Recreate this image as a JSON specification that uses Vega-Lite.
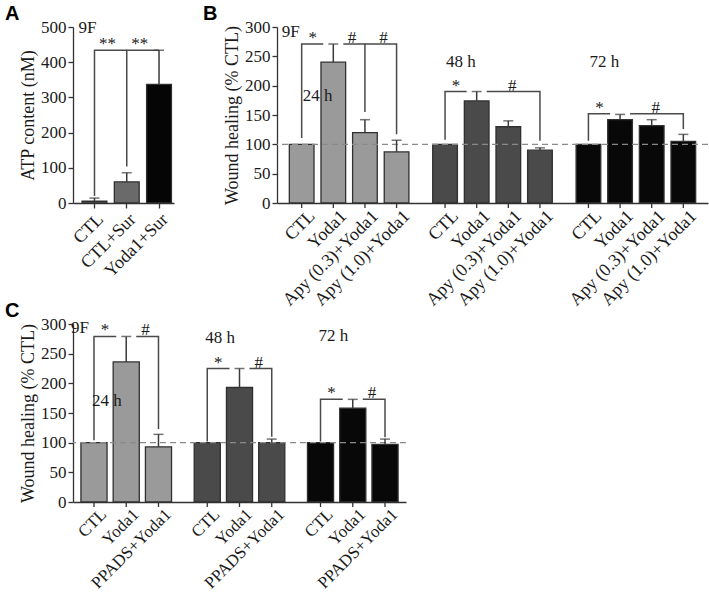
{
 "$schema": "https://vega.github.io/schema/vega-lite/v6.json",
 "padding": {"left": 5, "top": 4, "right": 0, "bottom": 0},
 "background": "white",
 "resolve": {"scale": {"color": "independent", "xOffset": "independent", "x": "independent", "y": "independent"}},
 "config": {
  "font": "Liberation Serif",
  "view": {"stroke": null},
  "axis": {"labelFont": "Liberation Serif", "labelFontSize": 17, "labelColor": "#1a1a1a", "titleFont": "Liberation Serif", "titleFontSize": 18, "titleFontWeight": "normal", "titleColor": "#1a1a1a", "domainColor": "#333333", "tickColor": "#333333", "domainWidth": 1.3, "tickWidth": 1.3, "tickSize": 5, "labelPadding": 2, "grid": false, "titlePadding": 3, "labelOverlap": false},
  "axisY": {"tickCount": 7, "labelOverlap": false},
  "title": {"font": "Liberation Sans", "fontSize": 20, "fontWeight": "bold", "color": "#000000", "anchor": "start", "offset": -6, "frame": "group"},
  "text": {"font": "Liberation Serif", "fontSize": 17, "color": "#1a1a1a"}
 },
 "datasets": {
  "atp": [
   {"cond": "CTL", "value": 5, "err": 14},
   {"cond": "CTL+Sur", "value": 60, "err": 86},
   {"cond": "Yoda1+Sur", "value": 337, "err": 434}
  ],
  "atpBr": [
   {"br": "a1", "cond": "CTL", "y": 20, "ord": 1},
   {"br": "a1", "cond": "CTL", "y": 434, "ord": 2},
   {"br": "a1", "cond": "CTL+Sur", "y": 434, "ord": 3},
   {"br": "a2", "cond": "CTL+Sur", "y": 104, "ord": 1},
   {"br": "a2", "cond": "CTL+Sur", "y": 434, "ord": 2},
   {"br": "a2", "cond": "Yoda1+Sur", "y": 434, "ord": 3}
  ],
  "atpSig": [
   {"cond": "CTL", "y": 434, "sym": "**"},
   {"cond": "CTL+Sur", "y": 434, "sym": "**"}
  ],
  "wB": [
   {"time": "24 h", "cond": "CTL", "value": 100},
   {"time": "24 h", "cond": "Yoda1", "value": 240, "err": 271},
   {"time": "24 h", "cond": "Apy (0.3)+Yoda1", "value": 120, "err": 142},
   {"time": "24 h", "cond": "Apy (1.0)+Yoda1", "value": 87, "err": 107},
   {"time": "48 h", "cond": "CTL", "value": 100},
   {"time": "48 h", "cond": "Yoda1", "value": 174, "err": 190},
   {"time": "48 h", "cond": "Apy (0.3)+Yoda1", "value": 130, "err": 140},
   {"time": "48 h", "cond": "Apy (1.0)+Yoda1", "value": 90, "err": 94},
   {"time": "72 h", "cond": "CTL", "value": 100},
   {"time": "72 h", "cond": "Yoda1", "value": 142, "err": 151},
   {"time": "72 h", "cond": "Apy (0.3)+Yoda1", "value": 132, "err": 142},
   {"time": "72 h", "cond": "Apy (1.0)+Yoda1", "value": 105, "err": 117}
  ],
  "wBBr": [
   {"br": "b1", "time": "24 h", "cond": "CTL", "y": 111, "ord": 1},
   {"br": "b1", "time": "24 h", "cond": "CTL", "y": 271, "ord": 2},
   {"br": "b1", "time": "24 h", "cond": "Yoda1", "y": 271, "ord": 3},
   {"br": "b2", "time": "24 h", "cond": "Yoda1", "y": 271, "ord": 1},
   {"br": "b2", "time": "24 h", "cond": "Apy (0.3)+Yoda1", "y": 271, "ord": 2},
   {"br": "b2", "time": "24 h", "cond": "Apy (0.3)+Yoda1", "y": 155, "ord": 3},
   {"br": "b3", "time": "24 h", "cond": "Apy (0.3)+Yoda1", "y": 271, "ord": 1},
   {"br": "b3", "time": "24 h", "cond": "Apy (1.0)+Yoda1", "y": 271, "ord": 2},
   {"br": "b3", "time": "24 h", "cond": "Apy (1.0)+Yoda1", "y": 117, "ord": 3},
   {"br": "b4", "time": "48 h", "cond": "CTL", "y": 108, "ord": 1},
   {"br": "b4", "time": "48 h", "cond": "CTL", "y": 190, "ord": 2},
   {"br": "b4", "time": "48 h", "cond": "Apy (1.0)+Yoda1", "y": 190, "ord": 3},
   {"br": "b4", "time": "48 h", "cond": "Apy (1.0)+Yoda1", "y": 106, "ord": 4},
   {"br": "b5", "time": "72 h", "cond": "CTL", "y": 106, "ord": 1},
   {"br": "b5", "time": "72 h", "cond": "CTL", "y": 152, "ord": 2},
   {"br": "b5", "time": "72 h", "cond": "Apy (1.0)+Yoda1", "y": 152, "ord": 3},
   {"br": "b5", "time": "72 h", "cond": "Apy (1.0)+Yoda1", "y": 126, "ord": 4}
  ],
  "wBGap": [
   {"time": "24 h", "cond": "Yoda1", "y": 271},
   {"time": "48 h", "cond": "Yoda1", "y": 190},
   {"time": "72 h", "cond": "Yoda1", "y": 152}
  ],
  "wBSigR": [
   {"time": "24 h", "cond": "CTL", "y": 271, "sym": "*"},
   {"time": "48 h", "cond": "CTL", "y": 190, "sym": "*"},
   {"time": "72 h", "cond": "CTL", "y": 152, "sym": "*"}
  ],
  "wBSigL": [
   {"time": "24 h", "cond": "Apy (0.3)+Yoda1", "y": 271, "sym": "#"},
   {"time": "24 h", "cond": "Apy (1.0)+Yoda1", "y": 271, "sym": "#"}
  ],
  "wBSigC": [
   {"time": "48 h", "cond": "Apy (0.3)+Yoda1", "y": 190, "sym": "#"},
   {"time": "72 h", "cond": "Apy (0.3)+Yoda1", "y": 152, "sym": "#"}
  ],
  "wBNote": [
   {"time": "24 h", "cond": "CTL", "y": 182, "t": "24 h"},
   {"time": "48 h", "cond": "CTL", "y": 240, "t": "48 h"},
   {"time": "72 h", "cond": "CTL", "y": 240, "t": "72 h"}
  ],
  "wC": [
   {"time": "24 h", "cond": "CTL", "value": 100},
   {"time": "24 h", "cond": "Yoda1", "value": 236, "err": 279},
   {"time": "24 h", "cond": "PPADS+Yoda1", "value": 93, "err": 114},
   {"time": "48 h", "cond": "CTL", "value": 100},
   {"time": "48 h", "cond": "Yoda1", "value": 193, "err": 225},
   {"time": "48 h", "cond": "PPADS+Yoda1", "value": 100, "err": 106},
   {"time": "72 h", "cond": "CTL", "value": 100},
   {"time": "72 h", "cond": "Yoda1", "value": 158, "err": 173},
   {"time": "72 h", "cond": "PPADS+Yoda1", "value": 97, "err": 106}
  ],
  "wCBr": [
   {"br": "c1", "time": "24 h", "cond": "CTL", "y": 104, "ord": 1},
   {"br": "c1", "time": "24 h", "cond": "CTL", "y": 279, "ord": 2},
   {"br": "c1", "time": "24 h", "cond": "PPADS+Yoda1", "y": 279, "ord": 3},
   {"br": "c1", "time": "24 h", "cond": "PPADS+Yoda1", "y": 123, "ord": 4},
   {"br": "c2", "time": "48 h", "cond": "CTL", "y": 102, "ord": 1},
   {"br": "c2", "time": "48 h", "cond": "CTL", "y": 225, "ord": 2},
   {"br": "c2", "time": "48 h", "cond": "PPADS+Yoda1", "y": 225, "ord": 3},
   {"br": "c2", "time": "48 h", "cond": "PPADS+Yoda1", "y": 110, "ord": 4},
   {"br": "c3", "time": "72 h", "cond": "CTL", "y": 102, "ord": 1},
   {"br": "c3", "time": "72 h", "cond": "CTL", "y": 173, "ord": 2},
   {"br": "c3", "time": "72 h", "cond": "PPADS+Yoda1", "y": 173, "ord": 3},
   {"br": "c3", "time": "72 h", "cond": "PPADS+Yoda1", "y": 109, "ord": 4}
  ],
  "wCGap": [
   {"time": "24 h", "cond": "Yoda1", "y": 279},
   {"time": "48 h", "cond": "Yoda1", "y": 225},
   {"time": "72 h", "cond": "Yoda1", "y": 173}
  ],
  "wCSigR": [
   {"time": "24 h", "cond": "CTL", "y": 279, "sym": "*"},
   {"time": "48 h", "cond": "CTL", "y": 225, "sym": "*"},
   {"time": "72 h", "cond": "CTL", "y": 173, "sym": "*"}
  ],
  "wCSigL": [
   {"time": "24 h", "cond": "PPADS+Yoda1", "y": 279, "sym": "#"},
   {"time": "48 h", "cond": "PPADS+Yoda1", "y": 225, "sym": "#"},
   {"time": "72 h", "cond": "PPADS+Yoda1", "y": 173, "sym": "#"}
  ],
  "wCNote": [
   {"time": "24 h", "cond": "CTL", "y": 170, "t": "24 h"},
   {"time": "48 h", "cond": "CTL", "y": 276, "t": "48 h"},
   {"time": "72 h", "cond": "CTL", "y": 279, "t": "72 h"}
  ]
 },
 "spacing": -9,
 "vconcat": [
  {
   "spacing": 103,
   "bounds": "flush",
   "resolve": {"scale": {"color": "independent", "xOffset": "independent", "x": "independent", "y": "independent"}},
   "hconcat": [
    {
     "title": {"text": "A", "dx": -68},
     "width": 101,
     "height": 176,
     "layer": [
      {"data": {"name": "atp"}, "mark": {"type": "bar", "stroke": "#303030", "strokeWidth": 1.3},
       "encoding": {
        "x": {"field": "cond", "type": "nominal", "title": null, "scale": {"type": "band", "domain": ["CTL", "CTL+Sur", "Yoda1+Sur"], "paddingInner": 0.23, "paddingOuter": 0.18, "align": 0.78}, "axis": {"labelAngle": -45, "labelAlign": "right", "labelBaseline": "top", "labelPadding": 2, "labelFontSize": 18}},
        "y": {"field": "value", "type": "quantitative", "scale": {"domain": [0, 500], "nice": false}, "axis": {"title": "ATP content (nM)", "values": [0, 100, 200, 300, 400, 500], "tickCount": 7, "labelOverlap": false}},
        "color": {"field": "cond", "type": "nominal", "scale": {"domain": ["CTL", "CTL+Sur", "Yoda1+Sur"], "range": ["#707070", "#6a6a6a", "#050505"]}, "legend": null}
       }},
      {"data": {"name": "atpBr"}, "mark": {"type": "line", "color": "#4a4a4a", "strokeWidth": 1.5},
       "encoding": {"x": {"field": "cond", "type": "nominal"}, "y": {"field": "y", "type": "quantitative"}, "detail": {"field": "br"}, "order": {"field": "ord", "type": "quantitative"}}},
      {"data": {"name": "atp"}, "mark": {"type": "rule", "color": "#3a3a3a", "strokeWidth": 1.5},
       "encoding": {"x": {"field": "cond", "type": "nominal"}, "y": {"field": "value", "type": "quantitative"}, "y2": {"field": "err"}}},
      {"data": {"name": "atp"}, "mark": {"type": "tick", "color": "#3a3a3a", "thickness": 1.5, "size": 10},
       "encoding": {"x": {"field": "cond", "type": "nominal"}, "y": {"field": "err", "type": "quantitative"}}},
      {"data": {"name": "atpSig"}, "mark": {"type": "text", "dx": 13, "dy": -1, "baseline": "alphabetic"},
       "encoding": {"x": {"field": "cond", "type": "nominal"}, "y": {"field": "y", "type": "quantitative"}, "text": {"field": "sym"}}},
      {"data": {"values": [{"cond": "CTL", "y": 497, "t": "9F"}]}, "mark": {"type": "text", "align": "left", "dx": -16, "baseline": "middle"},
       "encoding": {"x": {"field": "cond", "type": "nominal"}, "y": {"field": "y", "type": "quantitative"}, "text": {"field": "t"}}}
     ]
    },
    {
     "title": {"text": "B", "dx": -74},
     "width": 431,
     "height": 176,
     "layer": [
      {"data": {"name": "wB"}, "mark": {"type": "bar", "stroke": "#303030", "strokeWidth": 1.3},
       "encoding": {
        "x": {"field": "time", "type": "nominal", "scale": {"type": "band", "domain": ["24 h", "48 h", "72 h"], "paddingInner": 0.166, "paddingOuter": 0.086}, "axis": {"labels": false, "ticks": false, "title": null, "domain": true}},
        "xOffset": {"field": "cond", "type": "nominal", "scale": {"domain": ["CTL", "Yoda1", "Apy (0.3)+Yoda1", "Apy (1.0)+Yoda1"], "paddingInner": 0.22, "paddingOuter": 0}},
        "y": {"field": "value", "type": "quantitative", "scale": {"domain": [0, 300], "nice": false}, "axis": {"title": "Wound healing (% CTL)", "values": [0, 50, 100, 150, 200, 250, 300], "tickCount": 7, "labelOverlap": false}},
        "color": {"field": "time", "type": "nominal", "scale": {"domain": ["24 h", "48 h", "72 h"], "range": ["#9a9a9a", "#4a4a4a", "#080808"]}, "legend": null}
       }},
      {"data": {"values": [{}]}, "mark": {"type": "rule", "color": "#8a8a8a", "strokeDash": [6, 4], "strokeWidth": 1.3},
       "encoding": {"y": {"datum": 100}}},
      {"data": {"name": "wBBr"}, "mark": {"type": "line", "color": "#4a4a4a", "strokeWidth": 1.5},
       "encoding": {"x": {"field": "time", "type": "nominal"}, "xOffset": {"field": "cond", "type": "nominal"}, "y": {"field": "y", "type": "quantitative"}, "detail": {"field": "br"}, "order": {"field": "ord", "type": "quantitative"}}},
      {"data": {"name": "wBGap"}, "mark": {"type": "tick", "color": "white", "thickness": 4, "size": 20, "opacity": 1},
       "encoding": {"x": {"field": "time", "type": "nominal"}, "xOffset": {"field": "cond", "type": "nominal"}, "y": {"field": "y", "type": "quantitative"}}},
      {"data": {"name": "wB"}, "transform": [{"filter": "isValid(datum.err)"}], "mark": {"type": "rule", "color": "#3a3a3a", "strokeWidth": 1.5},
       "encoding": {"x": {"field": "time", "type": "nominal"}, "xOffset": {"field": "cond", "type": "nominal"}, "y": {"field": "value", "type": "quantitative"}, "y2": {"field": "err"}}},
      {"data": {"name": "wB"}, "transform": [{"filter": "isValid(datum.err)"}], "mark": {"type": "tick", "color": "#3a3a3a", "thickness": 1.5, "size": 10},
       "encoding": {"x": {"field": "time", "type": "nominal"}, "xOffset": {"field": "cond", "type": "nominal"}, "y": {"field": "err", "type": "quantitative"}}},
      {"data": {"name": "wBSigR"}, "mark": {"type": "text", "dx": 11, "dy": -1, "baseline": "alphabetic"},
       "encoding": {"x": {"field": "time", "type": "nominal"}, "xOffset": {"field": "cond", "type": "nominal"}, "y": {"field": "y", "type": "quantitative"}, "text": {"field": "sym"}}},
      {"data": {"name": "wBSigL"}, "mark": {"type": "text", "dx": -13, "dy": -1, "baseline": "alphabetic"},
       "encoding": {"x": {"field": "time", "type": "nominal"}, "xOffset": {"field": "cond", "type": "nominal"}, "y": {"field": "y", "type": "quantitative"}, "text": {"field": "sym"}}},
      {"data": {"name": "wBSigC"}, "mark": {"type": "text", "dx": 4, "dy": -1, "baseline": "alphabetic"},
       "encoding": {"x": {"field": "time", "type": "nominal"}, "xOffset": {"field": "cond", "type": "nominal"}, "y": {"field": "y", "type": "quantitative"}, "text": {"field": "sym"}}},
      {"data": {"name": "wBNote"}, "mark": {"type": "text", "align": "left", "dx": 1, "baseline": "middle"},
       "encoding": {"x": {"field": "time", "type": "nominal"}, "xOffset": {"field": "cond", "type": "nominal"}, "y": {"field": "y", "type": "quantitative"}, "text": {"field": "t"}}},
      {"data": {"values": [{"time": "24 h", "cond": "CTL", "y": 292, "t": "9F"}]}, "mark": {"type": "text", "align": "left", "dx": -20, "baseline": "middle"},
       "encoding": {"x": {"field": "time", "type": "nominal"}, "xOffset": {"field": "cond", "type": "nominal"}, "y": {"field": "y", "type": "quantitative"}, "text": {"field": "t"}}},
      {"data": {"name": "wB"}, "mark": {"type": "rule", "color": "#333333", "strokeWidth": 1.3, "y2Offset": 5},
       "encoding": {"x": {"field": "time", "type": "nominal"}, "xOffset": {"field": "cond", "type": "nominal"}, "y": {"datum": 0}, "y2": {"datum": 0}}},
      {"data": {"name": "wB"}, "mark": {"type": "text", "angle": 315, "align": "right", "baseline": "top", "dy": 6, "fontSize": 18},
       "encoding": {"x": {"field": "time", "type": "nominal"}, "xOffset": {"field": "cond", "type": "nominal"}, "y": {"datum": 0}, "text": {"field": "cond"}}}
     ]
    }
   ]
  },
  {
   "title": {"text": "C", "dx": -68},
   "width": 333,
   "height": 178,
   "layer": [
    {"data": {"name": "wC"}, "mark": {"type": "bar", "stroke": "#303030", "strokeWidth": 1.3},
     "encoding": {
      "x": {"field": "time", "type": "nominal", "scale": {"type": "band", "domain": ["24 h", "48 h", "72 h"], "paddingInner": 0.2, "paddingOuter": 0.07}, "axis": {"labels": false, "ticks": false, "title": null, "domain": true}},
      "xOffset": {"field": "cond", "type": "nominal", "scale": {"domain": ["CTL", "Yoda1", "PPADS+Yoda1"], "paddingInner": 0.19, "paddingOuter": 0}},
      "y": {"field": "value", "type": "quantitative", "scale": {"domain": [0, 300], "nice": false}, "axis": {"title": "Wound healing (% CTL)", "values": [0, 50, 100, 150, 200, 250, 300], "tickCount": 7, "labelOverlap": false}},
      "color": {"field": "time", "type": "nominal", "scale": {"domain": ["24 h", "48 h", "72 h"], "range": ["#9a9a9a", "#4a4a4a", "#080808"]}, "legend": null}
     }},
    {"data": {"values": [{}]}, "mark": {"type": "rule", "color": "#8a8a8a", "strokeDash": [6, 4], "strokeWidth": 1.3},
     "encoding": {"y": {"datum": 100}}},
    {"data": {"name": "wCBr"}, "mark": {"type": "line", "color": "#4a4a4a", "strokeWidth": 1.5},
     "encoding": {"x": {"field": "time", "type": "nominal"}, "xOffset": {"field": "cond", "type": "nominal"}, "y": {"field": "y", "type": "quantitative"}, "detail": {"field": "br"}, "order": {"field": "ord", "type": "quantitative"}}},
    {"data": {"name": "wCGap"}, "mark": {"type": "tick", "color": "white", "thickness": 4, "size": 20, "opacity": 1},
     "encoding": {"x": {"field": "time", "type": "nominal"}, "xOffset": {"field": "cond", "type": "nominal"}, "y": {"field": "y", "type": "quantitative"}}},
    {"data": {"name": "wC"}, "transform": [{"filter": "isValid(datum.err)"}], "mark": {"type": "rule", "color": "#3a3a3a", "strokeWidth": 1.5},
     "encoding": {"x": {"field": "time", "type": "nominal"}, "xOffset": {"field": "cond", "type": "nominal"}, "y": {"field": "value", "type": "quantitative"}, "y2": {"field": "err"}}},
    {"data": {"name": "wC"}, "transform": [{"filter": "isValid(datum.err)"}], "mark": {"type": "tick", "color": "#3a3a3a", "thickness": 1.5, "size": 10},
     "encoding": {"x": {"field": "time", "type": "nominal"}, "xOffset": {"field": "cond", "type": "nominal"}, "y": {"field": "err", "type": "quantitative"}}},
    {"data": {"name": "wCSigR"}, "mark": {"type": "text", "dx": 11, "dy": -1, "baseline": "alphabetic"},
     "encoding": {"x": {"field": "time", "type": "nominal"}, "xOffset": {"field": "cond", "type": "nominal"}, "y": {"field": "y", "type": "quantitative"}, "text": {"field": "sym"}}},
    {"data": {"name": "wCSigL"}, "mark": {"type": "text", "dx": -13, "dy": -1, "baseline": "alphabetic"},
     "encoding": {"x": {"field": "time", "type": "nominal"}, "xOffset": {"field": "cond", "type": "nominal"}, "y": {"field": "y", "type": "quantitative"}, "text": {"field": "sym"}}},
    {"data": {"name": "wCNote"}, "mark": {"type": "text", "align": "left", "dx": -2, "baseline": "middle"},
     "encoding": {"x": {"field": "time", "type": "nominal"}, "xOffset": {"field": "cond", "type": "nominal"}, "y": {"field": "y", "type": "quantitative"}, "text": {"field": "t"}}},
    {"data": {"values": [{"time": "24 h", "cond": "CTL", "y": 294, "t": "9F"}]}, "mark": {"type": "text", "align": "left", "dx": -23, "baseline": "middle"},
     "encoding": {"x": {"field": "time", "type": "nominal"}, "xOffset": {"field": "cond", "type": "nominal"}, "y": {"field": "y", "type": "quantitative"}, "text": {"field": "t"}}},
    {"data": {"name": "wC"}, "mark": {"type": "rule", "color": "#333333", "strokeWidth": 1.3, "y2Offset": 5},
     "encoding": {"x": {"field": "time", "type": "nominal"}, "xOffset": {"field": "cond", "type": "nominal"}, "y": {"datum": 0}, "y2": {"datum": 0}}},
    {"data": {"name": "wC"}, "mark": {"type": "text", "angle": 315, "align": "right", "baseline": "top", "dy": 6, "fontSize": 17},
     "encoding": {"x": {"field": "time", "type": "nominal"}, "xOffset": {"field": "cond", "type": "nominal"}, "y": {"datum": 0}, "text": {"field": "cond"}}}
   ]
  }
 ]
}
